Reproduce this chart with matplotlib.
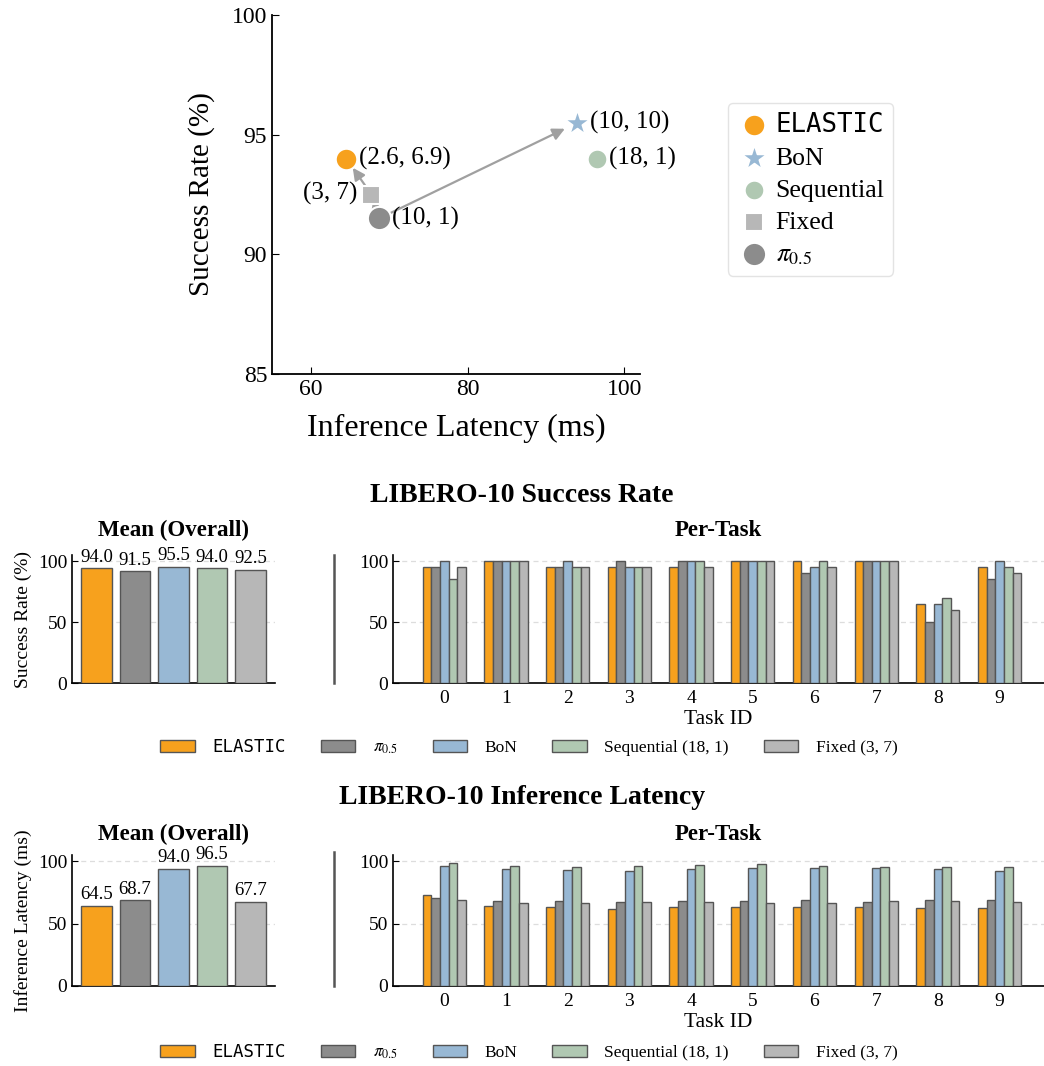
import numpy as np
import matplotlib
matplotlib.use('Agg')
import matplotlib.pyplot as plt
from matplotlib.lines import Line2D

plt.rcParams['font.family'] = ['Liberation Serif', 'DejaVu Serif']
plt.rcParams['mathtext.fontset'] = 'stix'

# ---- data ----
methods = ['ELASTIC', r'$\pi_{0.5}$', 'BoN', 'Sequential (18, 1)', 'Fixed (3, 7)']
colors = ['#F7A11D', '#8C8C8C', '#98B8D4', '#B0C8B2', '#B7B7B7']

sr_mean = [94.0, 91.5, 95.5, 94.0, 92.5]
lat_mean = [64.5, 68.7, 94.0, 96.5, 67.7]

task_ids = list(range(10))
sr_elastic = [95, 100, 95, 95, 95, 100, 100, 100, 65, 95]
sr_pi05 = [95, 100, 95, 100, 100, 100, 90, 100, 50, 85]
sr_bon = [100, 100, 100, 95, 100, 100, 95, 100, 65, 100]
sr_seq = [85, 100, 95, 95, 100, 100, 100, 100, 70, 95]
sr_fixed = [95, 100, 95, 95, 95, 100, 95, 100, 60, 90]

lat_elastic = [72.9, 64.0, 63.4, 62.1, 63.1, 63.4, 63.4, 63.4, 62.9, 62.9]
lat_pi05 = [70.5, 68.0, 68.3, 67.2, 68.0, 68.0, 68.8, 67.2, 68.8, 68.8]
lat_bon = [95.9, 93.5, 93.2, 92.4, 94.0, 94.6, 94.6, 94.6, 93.5, 92.4]
lat_seq = [98.4, 96.5, 95.7, 95.9, 97.0, 97.6, 95.9, 95.7, 95.7, 95.7]
lat_fixed = [69.1, 66.9, 66.9, 67.2, 67.2, 66.4, 66.4, 68.0, 68.0, 67.2]

# scatter (latency, success)
sc_names = ['ELASTIC', 'BoN', 'Sequential', 'Fixed', r'$\pi_{0.5}$']
sc_lat = [64.5, 94.0, 96.5, 67.7, 68.7]
sc_sr = [94.0, 95.5, 94.0, 92.5, 91.5]
sc_cfg = ['(2.6, 6.9)', '(10, 10)', '(18, 1)', '(3, 7)', '(10, 1)']
sc_colors = ['#F7A11D', '#98B8D4', '#B0C8B2', '#B7B7B7', '#8C8C8C']
sc_markers = ['o', '*', 'o', 's', 'o']
sc_sizes = [240, 400, 200, 180, 280]

W, H = 1044, 1066
fig = plt.figure(figsize=(W / 100, H / 100), dpi=100)


def px(l, t, r, b):
    return [l / W, 1 - b / H, (r - l) / W, (b - t) / H]


# ---- top scatter ----
ax = fig.add_axes(px(272, 15, 640, 374))
for i in range(len(sc_names)):
    ax.scatter(sc_lat[i], sc_sr[i], s=sc_sizes[i], marker=sc_markers[i], color=sc_colors[i],
               edgecolors='white', linewidths=1.5, zorder=3, label=sc_names[i])

arrow_kw = dict(arrowstyle='-|>', color='#A0A0A0', lw=1.6, mutation_scale=18)
# pi0.5 -> BoN
ax.annotate('', xy=(sc_lat[1], sc_sr[1]), xytext=(sc_lat[4], sc_sr[4]),
            arrowprops=dict(shrinkA=8, shrinkB=10, **arrow_kw), zorder=2)
# pi0.5 -> Fixed
ax.annotate('', xy=(sc_lat[3], sc_sr[3]), xytext=(sc_lat[4], sc_sr[4]),
            arrowprops=dict(shrinkA=8, shrinkB=4, **arrow_kw), zorder=2)
# Fixed -> ELASTIC
ax.annotate('', xy=(sc_lat[0], sc_sr[0]), xytext=(sc_lat[3], sc_sr[3]),
            arrowprops=dict(shrinkA=7, shrinkB=8, **arrow_kw), zorder=2)

offs = [(9, 0), (9, 0), (9, 0), (-10, 1), (9, 0)]
for i in range(len(sc_names)):
    ax.annotate(sc_cfg[i], (sc_lat[i], sc_sr[i]), xytext=offs[i], textcoords='offset points',
                ha='left' if offs[i][0] > 0 else 'right', va='center', fontsize=18)

ax.set_xlim(55, 102)
ax.set_ylim(85, 100)
ax.set_xticks([60, 80, 100])
ax.set_yticks([85, 90, 95, 100])
ax.tick_params(labelsize=17, direction='in', length=5)
ax.set_xlabel('Inference Latency (ms)', fontsize=23, labelpad=10)
ax.set_ylabel('Success Rate (%)', fontsize=21, labelpad=12)
ax.spines['top'].set_visible(False)
ax.spines['right'].set_visible(False)
for s in ax.spines.values():
    s.set_linewidth(1.3)

leg = ax.legend(loc='upper left', bbox_to_anchor=(728 / W, 1 - 103 / H), bbox_transform=fig.transFigure,
                borderaxespad=0, fontsize=18.5, labelspacing=0.35, handletextpad=0.2, borderpad=0.35,
                handlelength=1.3, frameon=True, edgecolor='#DDDDDD', fancybox=True)
for t in leg.get_texts():
    if t.get_text() == 'ELASTIC':
        t.set_fontfamily('DejaVu Sans Mono')


# ---- bottom rows ----
def draw_row(top, bottom, mean_vals, task_vals, ylabel):
    ax_m = fig.add_axes(px(72, top, 275, bottom))
    ax_t = fig.add_axes(px(393, top, 1044, bottom))

    xs = np.arange(len(mean_vals))
    bars = ax_m.bar(xs, mean_vals, width=0.8, color=colors, edgecolor='#555555', linewidth=1.0, zorder=3)
    for b, v in zip(bars, mean_vals):
        ax_m.annotate('%.1f' % v, (b.get_x() + b.get_width() / 2, v), xytext=(0, 2),
                      textcoords='offset points', ha='center', va='bottom', fontsize=13.5)
    ax_m.set_xticks([])
    ax_m.set_ylabel(ylabel, fontsize=14)

    bw = 0.14
    tx = np.arange(len(task_ids))
    for k, vals in enumerate(task_vals):
        ax_t.bar(tx + (k - 2) * bw, vals, width=bw, color=colors[k], edgecolor='#555555',
                 linewidth=1.0, zorder=3, label=methods[k])
    ax_t.set_xticks(tx)
    ax_t.set_xticklabels([str(t) for t in task_ids])
    ax_t.set_xlim(-0.83, 9.72)
    ax_t.set_xlabel('Task ID', fontsize=15.5, labelpad=2)

    for a in (ax_m, ax_t):
        a.set_ylim(0, 105)
        a.set_yticks([0, 50, 100])
        a.tick_params(labelsize=14, direction='in', length=4)
        a.spines['top'].set_visible(False)
        a.spines['right'].set_visible(False)
        a.spines['left'].set_linewidth(1.2)
        a.spines['bottom'].set_linewidth(1.2)
        a.yaxis.grid(True, linestyle=(0, (4, 3)), color='#DDDDDD', linewidth=0.9, zorder=0)
        a.set_axisbelow(True)
    ax_t.tick_params(axis='x', length=0, pad=5)
    return ax_m, ax_t


def divider(top, bottom):
    fig.add_artist(Line2D([334 / W, 334 / W], [1 - top / H, 1 - bottom / H],
                          color='#555555', linewidth=1.8))


def row_legend(ax_t, ycenter):
    h, l = ax_t.get_legend_handles_labels()
    lg = fig.legend(h, l, loc='center', bbox_to_anchor=(529 / W, 1 - ycenter / H), ncol=5,
                    fontsize=12.5, frameon=False, handlelength=2.0, handleheight=0.7,
                    handletextpad=1.0, columnspacing=2.0)
    for t in lg.get_texts():
        if t.get_text() == 'ELASTIC':
            t.set_fontfamily('DejaVu Sans Mono')


# success rate
fig.text(0.5, 1 - 495 / H, 'LIBERO-10 Success Rate', ha='center', va='center', fontsize=20, fontweight='bold')
fig.text(173 / W, 1 - 530 / H, 'Mean (Overall)', ha='center', va='center', fontsize=16.5, fontweight='bold')
fig.text(718 / W, 1 - 530 / H, 'Per-Task', ha='center', va='center', fontsize=16.5, fontweight='bold')
am, at = draw_row(555, 683, sr_mean, [sr_elastic, sr_pi05, sr_bon, sr_seq, sr_fixed], 'Success Rate (%)')
divider(555, 683)
row_legend(at, 747)

# latency
fig.text(0.5, 1 - 798 / H, 'LIBERO-10 Inference Latency', ha='center', va='center', fontsize=20, fontweight='bold')
fig.text(173 / W, 1 - 834 / H, 'Mean (Overall)', ha='center', va='center', fontsize=16.5, fontweight='bold')
fig.text(718 / W, 1 - 834 / H, 'Per-Task', ha='center', va='center', fontsize=16.5, fontweight='bold')
am2, at2 = draw_row(855, 986, lat_mean, [lat_elastic, lat_pi05, lat_bon, lat_seq, lat_fixed], 'Inference Latency (ms)')
divider(852, 986)
row_legend(at2, 1052)

fig.savefig('out.png', dpi=100)
